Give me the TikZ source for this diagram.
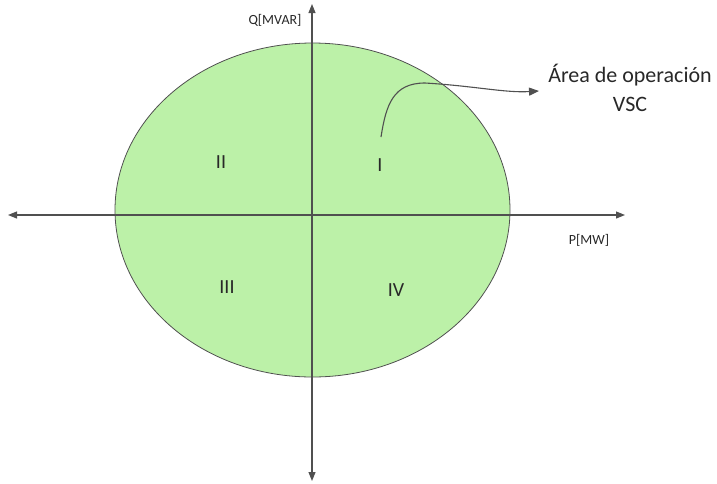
\documentclass[tikz,border=0pt]{standalone}
\usepackage{fontspec}
\setmainfont{Carlito}
\usetikzlibrary{arrows.meta,shapes.geometric}
\definecolor{areagreen}{RGB}{188,241,168}
\definecolor{edgegray}{RGB}{80,80,80}
\definecolor{textgray}{RGB}{40,40,40}

\begin{document}
\begin{tikzpicture}[
  x=1pt, y=-1pt,
  every node/.style={text=textgray},
  axis/.style={draw=edgegray, line width=1.1pt, -{Triangle[length=9pt,width=7pt]}},
  region/.style={draw=edgegray, fill=areagreen, ellipse, line width=0.8pt, minimum width=395pt, minimum height=334pt, inner sep=0pt},
  quad/.style={font=\fontsize{20}{24}\selectfont},
  axlabel/.style={font=\fontsize{14}{16}\selectfont}
]
\useasboundingbox (0,0) rectangle (717,483);
\node[region] (area) at (312.5,210) {};

% ejes
\coordinate (o) at (312,215);
\coordinate (pneg) at (8,215);
\coordinate (ppos) at (625,215);
\coordinate (qpos) at (312,4);
\coordinate (qneg) at (312,481);
\draw[axis] (o) -- (ppos);
\draw[axis] (o) -- (pneg);
\draw[axis] (o) -- (qpos);
\draw[axis] (o) -- (qneg);

\node[axlabel] (qlab) at (275,20) {Q[MVAR]};
\node[axlabel] (plab) at (589,240) {P[MW]};

\node[quad] (q1) at (380,165) {I};
\node[quad] (q2) at (221,162) {II};
\node[quad] (q3) at (227,287) {III};
\node[quad] (q4) at (396,290) {IV};

\node[font=\fontsize{22}{29}\selectfont, align=center] (op) at (630,88) {Área de operación\\VSC};

\coordinate (ptr) at (381,137);
\coordinate (tip) at (539,91);
\draw[draw=edgegray, line width=1.1pt, -{Triangle[length=10pt,width=8pt]}] (ptr) .. controls (386,105) and (393,83) .. (425,83) .. controls (475,86) and (505,93) .. (tip);
\end{tikzpicture}
\end{document}
